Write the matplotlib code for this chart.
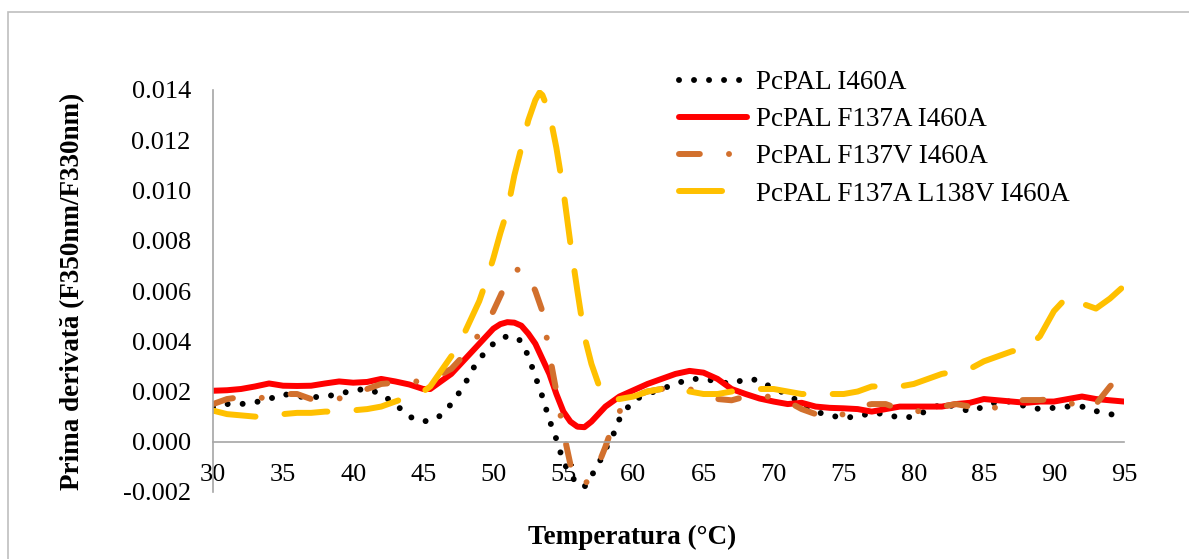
import numpy as np
import matplotlib
matplotlib.use("Agg")
import matplotlib.pyplot as plt
from matplotlib.patches import Rectangle

plt.rcParams['font.family'] = ['Liberation Serif', 'DejaVu Serif']
plt.rcParams['lines.scale_dashes'] = False
plt.rcParams['axes.unicode_minus'] = False

# PcPAL I460A
t_i460a = [30, 31, 32, 33, 34, 35, 36, 37, 38, 39, 40, 41, 42, 43, 44, 45, 46, 47, 47.5, 48,
           48.5, 49, 49.5, 50, 50.5, 51, 51.5, 52, 52.5, 53, 53.5, 54, 54.5, 55, 55.5, 56, 56.5,
           57, 57.5, 58, 58.5, 59, 59.5, 60, 61, 62, 63, 64, 65, 66, 67, 68, 69, 70, 71, 72, 73,
           74, 75, 76, 77, 78, 79, 80, 81, 82, 83, 84, 85, 86, 87, 88, 89, 90, 91, 92, 93, 94, 95]
v_i460a = [0.00137, 0.0015, 0.0015, 0.00157, 0.0017, 0.0019, 0.0018, 0.00177, 0.0018, 0.0019,
           0.00205, 0.0021, 0.0019, 0.0015, 0.001, 0.0008, 0.00093, 0.0015, 0.0019, 0.00233,
           0.00286, 0.0033, 0.0036, 0.0039, 0.0041, 0.0042, 0.00418, 0.004, 0.0034, 0.0026,
           0.0018, 0.00087, 0.0001, -0.0008, -0.0013, -0.0017, -0.0018, -0.00136, -0.0009,
           -0.0003, 0.0002, 0.0009, 0.0013, 0.00165, 0.0019, 0.0021, 0.0023, 0.0025, 0.0025,
           0.0024, 0.0023, 0.0025, 0.00245, 0.0021, 0.0019, 0.0015, 0.0012, 0.00104, 0.00096,
           0.001, 0.00115, 0.0011, 0.00095, 0.001, 0.00125, 0.0015, 0.0014, 0.0012, 0.0014,
           0.0016, 0.0016, 0.0014, 0.0013, 0.00135, 0.0014, 0.0014, 0.00122, 0.0011, 0.001]

# PcPAL F137A I460A
t_f137a = [30, 31, 32, 33, 34, 35, 36, 37, 38, 39, 40, 41, 42, 43, 44, 45, 45.5, 46, 47, 48,
           48.5, 49, 49.5, 50, 50.5, 51, 51.5, 52, 52.5, 53, 53.5, 54, 54.5, 55, 55.5, 56, 56.5,
           57, 57.5, 58, 58.5, 59, 60, 61, 62, 63, 64, 65, 66, 67, 68, 69, 70, 71, 72, 73, 74,
           75, 76, 77, 78, 79, 80, 81, 82, 83, 84, 85, 86, 87, 88, 89, 90, 91, 92, 93, 94, 95]
v_f137a = [0.00203, 0.00205, 0.0021, 0.0022, 0.00232, 0.00223, 0.00222, 0.00223, 0.00232,
           0.0024, 0.00235, 0.00238, 0.0025, 0.0024, 0.00228, 0.0021, 0.0021, 0.0023, 0.0027,
           0.0033, 0.0036, 0.0039, 0.0042, 0.0045, 0.00468, 0.00476, 0.00474, 0.00462, 0.0043,
           0.0039, 0.0033, 0.0027, 0.0019, 0.0012, 0.0008, 0.0006, 0.00058, 0.0008, 0.0011,
           0.0014, 0.0016, 0.0018, 0.00205, 0.0023, 0.0025, 0.0027, 0.00282, 0.00275, 0.0025,
           0.0021, 0.0019, 0.00172, 0.0016, 0.0015, 0.00155, 0.0014, 0.00135, 0.00133, 0.0013,
           0.0012, 0.0013, 0.0014, 0.0014, 0.0014, 0.0014, 0.0015, 0.00155, 0.0017, 0.00165,
           0.0016, 0.00155, 0.0016, 0.0016, 0.0017, 0.0018, 0.0017, 0.00165, 0.0016]

# PcPAL F137V I460A
t_f137v = [30, 31, 32, 33, 34, 35, 36, 37, 38, 39, 40, 41, 42, 43, 44, 45, 46, 47, 48, 48.5,
           49, 49.5, 50, 50.5, 51, 51.5, 52, 52.5, 53, 53.5, 54, 54.5, 55, 55.5, 56, 56.5, 57,
           57.5, 58, 58.5, 59, 59.5, 60, 61, 62, 63, 64, 65, 66, 67, 68, 69, 70, 71, 72, 73, 74,
           75, 76, 77, 78, 79, 80, 81, 82, 83, 84, 85, 86, 87, 88, 89, 90, 91, 92, 93, 94, 95]
v_f137v = [0.0015, 0.0017, 0.00178, 0.0017, 0.0018, 0.0019, 0.0019, 0.0017, 0.0017, 0.00172,
           0.0019, 0.0021, 0.0023, 0.00235, 0.0024, 0.0024, 0.0026, 0.0029, 0.0035, 0.0039,
           0.0043, 0.0047, 0.0052, 0.0058, 0.0064, 0.0068, 0.0069, 0.0066, 0.006, 0.0052,
           0.0035, 0.002, 0.0004, -0.0009, -0.0016, -0.0017, -0.0014, -0.0009, -0.0002, 0.0006,
           0.0012, 0.0016, 0.0018, 0.002, 0.0021, 0.0022, 0.0021, 0.00186, 0.0017, 0.00165,
           0.0018, 0.00182, 0.00178, 0.0016, 0.0013, 0.0011, 0.00095, 0.0011, 0.0014, 0.0015,
           0.0015, 0.0013, 0.00118, 0.0013, 0.0014, 0.0015, 0.0014, 0.0012, 0.0014, 0.00165,
           0.00166, 0.00166, 0.0017, 0.0016, 0.0013, 0.0015, 0.0022, 0.0028]

# PcPAL F137A L138V I460A
t_l138v = [30, 31, 32, 33, 34, 35, 36, 37, 38, 39, 40, 41, 42, 43, 44, 45, 45.5, 46, 46.5, 47,
           47.5, 48, 48.5, 49, 49.5, 50, 50.5, 51, 51.5, 52, 52.5, 53, 53.3, 53.5, 54, 54.5, 55,
           55.5, 56, 56.5, 57, 57.5, 58, 58.5, 59, 60, 61, 62, 63, 64, 65, 66, 67, 68, 69, 70,
           71, 72, 73, 74, 75, 76, 77, 78, 79, 80, 81, 82, 83, 84, 85, 86, 87, 88, 89, 90, 91,
           92, 93, 94, 95]
v_l138v = [0.00124, 0.0011, 0.00105, 0.001, 0.001, 0.0011, 0.00115, 0.00115, 0.0012, 0.0012,
           0.00125, 0.0013, 0.0014, 0.0016, 0.0018, 0.002, 0.0022, 0.0026, 0.003, 0.0034,
           0.0038, 0.0044, 0.005, 0.0056, 0.0064, 0.0073, 0.0083, 0.0092, 0.0106, 0.0117,
           0.0128, 0.0136, 0.0139, 0.0138, 0.0131, 0.0117, 0.01, 0.0079, 0.006, 0.0042, 0.0031,
           0.0023, 0.0018, 0.00165, 0.0017, 0.0018, 0.002, 0.0021, 0.0021, 0.002, 0.0019,
           0.0019, 0.002, 0.0021, 0.0021, 0.0021, 0.002, 0.0019, 0.0019, 0.0019, 0.0019, 0.002,
           0.0022, 0.0022, 0.0022, 0.0023, 0.0025, 0.0027, 0.0028, 0.0029, 0.0032, 0.0034,
           0.0036, 0.0037, 0.0042, 0.0052, 0.0058, 0.0055, 0.0053, 0.0057, 0.0062]

labels = ['PcPAL I460A', 'PcPAL F137A I460A', 'PcPAL F137V I460A', 'PcPAL F137A L138V I460A']
xticks = [30, 35, 40, 45, 50, 55, 60, 65, 70, 75, 80, 85, 90, 95]
yticks = [-0.002, 0.0, 0.002, 0.004, 0.006, 0.008, 0.010, 0.012, 0.014]

W, H = 1189, 559
fig = plt.figure(figsize=(W / 100, H / 100), dpi=100)
ax = fig.add_axes([213 / W, 1 - 492 / H, (1124 - 213) / W, (492 - 90) / H])

# outer chart border (only top/left inside the picture)
fig.patches.append(Rectangle((8 / W, -0.1), 1.2, 1 - 12 / H + 0.1, transform=fig.transFigure,
                             fill=False, edgecolor='#BFBFBF', linewidth=1.2, clip_on=False))

lw = 4.3
ax.plot(t_i460a, v_i460a, color='black', lw=lw, linestyle=(0, (0.01, 10.8)),
        dash_capstyle='round', label=labels[0])
ax.plot(t_f137a, v_f137a, color='#FF0000', lw=lw, solid_capstyle='round', label=labels[1])
ax.plot(t_f137v, v_f137v, color='#D2702D', lw=lw, linestyle=(0, (15, 21, 0.01, 21)),
        dash_capstyle='round', label=labels[2])
ax.plot(t_l138v, v_l138v, color='#FFC000', lw=lw, linestyle=(0, (31, 21)),
        dash_capstyle='round', label=labels[3])

ax.set_xlim(30, 95)
ax.set_ylim(-0.002, 0.014)
ax.set_xticks(xticks)
ax.set_yticks(yticks)
ax.set_yticklabels(['%.3f' % v for v in yticks])
ax.tick_params(axis='both', length=0, labelsize=19)
ax.tick_params(axis='y', pad=16)
ax.tick_params(axis='x', pad=16)

for s in ['top', 'right']:
    ax.spines[s].set_visible(False)
ax.spines['bottom'].set_position(('data', 0))
ax.spines['bottom'].set_color('#A6A6A6')
ax.spines['left'].set_color('#A6A6A6')
ax.spines['bottom'].set_linewidth(1.2)
ax.spines['left'].set_linewidth(1.2)

ax.set_ylabel('Prima derivată (F350nm/F330nm)', fontsize=19.5, fontweight='bold')
ax.yaxis.set_label_coords(-(213 - 85) / (1124 - 213), 0.5)
fig.text(632 / W, 1 - 537 / H, 'Temperatura (°C)', fontsize=19.5, fontweight='bold',
         ha='center', va='center')

fig.legend(loc='upper left', bbox_to_anchor=(679 / W, 1 - 70 / H), frameon=False,
           fontsize=19.5, handlelength=2.5, handletextpad=0.33, labelspacing=0.45,
           borderpad=0, borderaxespad=0)

fig.savefig('out.png', dpi=100)
